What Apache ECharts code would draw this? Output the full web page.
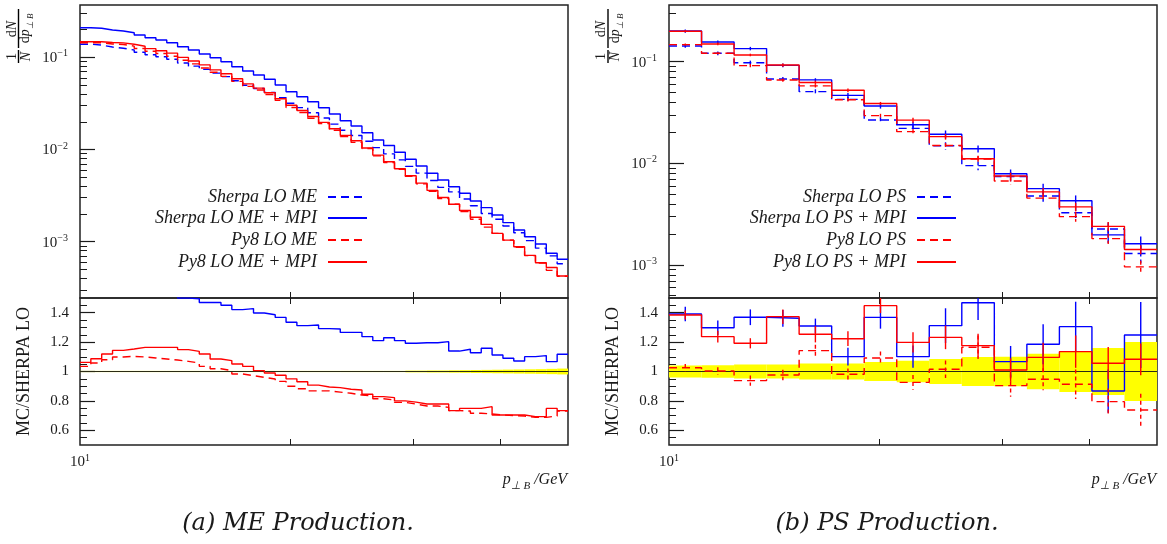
<!DOCTYPE html>
<html><head><meta charset="utf-8">
<script src="https://cdn.jsdelivr.net/npm/echarts@6/dist/echarts.min.js"></script>
<style>html,body{margin:0;padding:0;background:#fff}#c{width:1167px;height:544px}</style>
</head><body><div id="c"></div>
<script>
// ---------- bin edges (GeV) ----------
const leftEdges = [10, 10.364, 10.742, 11.133, 11.538, 11.958, 12.394, 12.845, 13.313, 13.797, 14.300, 14.820, 15.360, 15.919, 16.499, 17.100, 17.722, 18.368, 19.037, 19.730, 20.448, 21.193, 21.964, 22.764, 23.593, 24.452, 25.342, 26.265, 27.222, 28.213, 29.240, 30.305, 31.408, 32.552, 33.737, 34.966, 36.239, 37.558, 38.926, 40.343, 41.812, 43.335, 44.913, 46.548, 48.243, 50];
const rightEdges = [10, 11.133, 12.394, 13.797, 15.360, 17.100, 19.037, 21.193, 23.593, 26.265, 29.240, 32.552, 36.239, 40.343, 44.913, 50];

// ---------- (a) ME production ----------
const meSherpa = [0.1389, 0.1359, 0.1293, 0.1254, 0.1201, 0.1134, 0.1067, 0.1014, 0.0954, 0.0869, 0.0803, 0.0740, 0.0675, 0.0618, 0.0557, 0.0498, 0.0460, 0.0417, 0.0366, 0.0318, 0.0285, 0.0251, 0.0220, 0.01885, 0.01619, 0.01422, 0.01229, 0.01048, 0.00898, 0.00773, 0.00657, 0.00554, 0.00462, 0.00388, 0.00347, 0.00291, 0.00245, 0.00202, 0.00175, 0.00148, 0.00125, 0.001026, 0.000851, 0.000701, 0.000577];
const meSherpaMpi = [0.2097, 0.2065, 0.1979, 0.1931, 0.1850, 0.1747, 0.1633, 0.1542, 0.1441, 0.1304, 0.1201, 0.1087, 0.0991, 0.0897, 0.0791, 0.0711, 0.0643, 0.0578, 0.0501, 0.0424, 0.0374, 0.0330, 0.0284, 0.0243, 0.0205, 0.0180, 0.0152, 0.01268, 0.01105, 0.00935, 0.00783, 0.00662, 0.00552, 0.00467, 0.00395, 0.00335, 0.00276, 0.00234, 0.00195, 0.00161, 0.00134, 0.00113, 0.000943, 0.000748, 0.000644];
const mePy8 = [0.1438, 0.1438, 0.1396, 0.1378, 0.1325, 0.1246, 0.1165, 0.1100, 0.1028, 0.0929, 0.0850, 0.0766, 0.0688, 0.0622, 0.0548, 0.0484, 0.0442, 0.0396, 0.0341, 0.0286, 0.0252, 0.0218, 0.0191, 0.01621, 0.01379, 0.01194, 0.01026, 0.00854, 0.00724, 0.00611, 0.00511, 0.00424, 0.00353, 0.00293, 0.00255, 0.00213, 0.00175, 0.00144, 0.00123, 0.00104, 0.000871, 0.000706, 0.000585, 0.000489, 0.000422];
const mePy8Mpi = [0.1475, 0.1477, 0.1447, 0.1435, 0.1385, 0.1320, 0.1242, 0.1180, 0.1110, 0.0998, 0.0913, 0.0828, 0.0732, 0.0664, 0.0585, 0.0515, 0.0463, 0.0413, 0.0356, 0.0302, 0.0265, 0.0228, 0.0197, 0.01678, 0.01423, 0.01243, 0.01039, 0.00869, 0.00738, 0.00618, 0.00520, 0.00432, 0.00360, 0.00302, 0.00255, 0.00218, 0.00184, 0.00154, 0.00123, 0.00104, 0.000880, 0.000711, 0.000590, 0.000525, 0.000424];
const meRatioSherpaMpi = [1.52, 1.53, 1.54, 1.55, 1.55, 1.55, 1.54, 1.53, 1.52, 1.50, 1.495, 1.469, 1.469, 1.451, 1.421, 1.428, 1.398, 1.386, 1.368, 1.335, 1.312, 1.316, 1.292, 1.289, 1.266, 1.266, 1.237, 1.210, 1.230, 1.210, 1.192, 1.196, 1.196, 1.203, 1.139, 1.151, 1.128, 1.158, 1.112, 1.090, 1.071, 1.101, 1.108, 1.067, 1.117];
const meRatioPy8 = [1.035, 1.058, 1.080, 1.099, 1.103, 1.099, 1.092, 1.085, 1.078, 1.069, 1.058, 1.035, 1.019, 1.006, 0.983, 0.972, 0.960, 0.949, 0.933, 0.900, 0.883, 0.868, 0.868, 0.860, 0.852, 0.840, 0.835, 0.815, 0.806, 0.790, 0.778, 0.765, 0.765, 0.756, 0.734, 0.731, 0.716, 0.711, 0.704, 0.700, 0.697, 0.688, 0.688, 0.697, 0.731];
const meRatioPy8Mpi = [1.062, 1.087, 1.119, 1.144, 1.153, 1.164, 1.164, 1.164, 1.164, 1.149, 1.137, 1.119, 1.085, 1.074, 1.051, 1.035, 1.006, 0.990, 0.974, 0.950, 0.930, 0.907, 0.895, 0.890, 0.879, 0.874, 0.845, 0.829, 0.822, 0.800, 0.792, 0.779, 0.779, 0.779, 0.734, 0.749, 0.749, 0.761, 0.704, 0.704, 0.704, 0.693, 0.693, 0.749, 0.734];
const meBand = [0.004, 0.004, 0.004, 0.004, 0.004, 0.004, 0.004, 0.004, 0.004, 0.004, 0.004, 0.004, 0.004, 0.004, 0.004, 0.004, 0.004, 0.004, 0.004, 0.004, 0.004, 0.004, 0.004, 0.004, 0.004, 0.004, 0.004, 0.004, 0.004, 0.004, 0.006, 0.006, 0.007, 0.007, 0.008, 0.009, 0.010, 0.011, 0.012, 0.013, 0.014, 0.015, 0.016, 0.018, 0.020];

// ---------- (b) PS production ----------
const psSherpa = [0.1426, 0.1209, 0.0977, 0.0675, 0.0507, 0.0426, 0.0267, 0.0221, 0.0149, 0.00949, 0.00742, 0.00477, 0.00327, 0.00226, 0.00130];
const psSherpaMpi = [0.200, 0.156, 0.1345, 0.0919, 0.0662, 0.0466, 0.0366, 0.0240, 0.0193, 0.0139, 0.00791, 0.00564, 0.00428, 0.00198, 0.00162];
const psPy8 = [0.147, 0.121, 0.0915, 0.066, 0.0578, 0.0422, 0.0295, 0.0205, 0.0150, 0.0110, 0.00671, 0.00455, 0.00299, 0.00182, 0.00096];
const psPy8Mpi = [0.199, 0.1494, 0.1164, 0.0927, 0.0623, 0.0523, 0.0388, 0.0266, 0.0183, 0.0111, 0.00750, 0.00524, 0.00373, 0.0024, 0.00142];
const psRatioSherpaMpi = [1.391, 1.298, 1.369, 1.362, 1.310, 1.101, 1.368, 1.101, 1.312, 1.468, 1.067, 1.185, 1.305, 0.867, 1.248];
const psRatioPy8 = [1.026, 1.003, 0.938, 0.976, 1.142, 0.981, 1.092, 0.926, 1.015, 1.165, 0.904, 0.947, 0.913, 0.795, 0.738];
const psRatioPy8Mpi = [1.384, 1.237, 1.192, 1.373, 1.253, 1.223, 1.448, 1.198, 1.232, 1.176, 1.010, 1.096, 1.135, 1.056, 1.083];
// relative uncertainties
const psSherpaErr = [0.040, 0.042, 0.047, 0.048, 0.055, 0.055, 0.065, 0.073, 0.085, 0.098, 0.100, 0.120, 0.140, 0.160, 0.200];
const psSherpaMpiErr = [0.035, 0.038, 0.039, 0.042, 0.038, 0.055, 0.056, 0.069, 0.090, 0.080, 0.100, 0.115, 0.130, 0.170, 0.180];
const psPy8Err = [0.024, 0.025, 0.037, 0.036, 0.035, 0.041, 0.041, 0.054, 0.059, 0.069, 0.083, 0.079, 0.110, 0.113, 0.149];
const psPy8MpiErr = [0.022, 0.032, 0.029, 0.036, 0.044, 0.041, 0.035, 0.058, 0.065, 0.068, 0.079, 0.091, 0.097, 0.104, 0.100];

// ---------- ticks ----------
const xTicks = [20, 30, 40];
const xLabelTicks = [10];
const mainMajorTicks = [0.1, 0.01, 0.001];
const leftMinorTicks = [3e-4, 4e-4, 5e-4, 6e-4, 7e-4, 8e-4, 9e-4, 2e-3, 3e-3, 4e-3, 5e-3, 6e-3, 7e-3, 8e-3, 9e-3, 0.02, 0.03, 0.04, 0.05, 0.06, 0.07, 0.08, 0.09, 0.2, 0.3];
const rightMinorTicks = [5e-4, 6e-4, 7e-4, 8e-4, 9e-4, 2e-3, 3e-3, 4e-3, 5e-3, 6e-3, 7e-3, 8e-3, 9e-3, 0.02, 0.03, 0.04, 0.05, 0.06, 0.07, 0.08, 0.09, 0.2, 0.3];
const ratioMajorTicks = [0.6, 0.8, 1, 1.2, 1.4];
const ratioMinorTicks = [0.55, 0.65, 0.7, 0.75, 0.85, 0.9, 0.95, 1.05, 1.1, 1.15, 1.25, 1.3, 1.35, 1.45];

const BLUE = '#0000ff', RED = '#ff0000', INK = '#1a1a1a';
const SERIF = 'Liberation Serif';

function steps(edges, vals) {
  const d = vals.map((v, i) => [edges[i], v]);
  d.push([edges[vals.length], vals[vals.length - 1]]);
  return d;
}
function histo(name, edges, vals, color, dashed, xi, yi, z) {
  return { name, type: 'line', step: 'end', xAxisIndex: xi, yAxisIndex: yi, data: steps(edges, vals),
    symbol: 'none', showSymbol: false, clip: true, z: z, silent: true,
    lineStyle: { color, width: 1.4, type: dashed ? [8, 5] : 'solid' }, itemStyle: { color },
    emphasis: { disabled: true } };
}
function errBars(edges, vals, errs, color, dashed, xi, yi, z) {
  return { type: 'custom', xAxisIndex: xi, yAxisIndex: yi, clip: true, silent: true, z: z,
    data: vals.map((v, i) => [Math.sqrt(edges[i] * edges[i + 1]), v, errs[i]]),
    renderItem(params, api) {
      const x = api.value(0), v = api.value(1), e = api.value(2);
      const a = api.coord([x, v * (1 + e)]), b = api.coord([x, v * (1 - e)]);
      return { type: 'line', shape: { x1: a[0], y1: a[1], x2: b[0], y2: b[1] },
        style: { stroke: color, lineWidth: 1.4, lineDash: dashed ? [4, 3] : 'solid' } };
    } };
}
function band(edges, half, xi, yi) {
  return { type: 'custom', xAxisIndex: xi, yAxisIndex: yi, clip: true, silent: true, z: 1,
    data: half.map((h, i) => [edges[i], 1, edges[i + 1], h]),
    renderItem(params, api) {
      const h = api.value(3);
      const p0 = api.coord([api.value(0), 1 + h]), p1 = api.coord([api.value(2), 1 - h]);
      return { type: 'rect', shape: { x: p0[0], y: p0[1], width: p1[0] - p0[0], height: p1[1] - p0[1] },
        style: { fill: '#ffff00' } };
    } };
}
function unity(xi, yi) {
  return { type: 'line', xAxisIndex: xi, yAxisIndex: yi, data: [[10, 1], [50, 1]], symbol: 'none',
    silent: true, z: 2, lineStyle: { color: '#2b2b14', width: 1.2 } };
}

const supRich = {
  b: { fontFamily: SERIF, fontSize: 15, color: INK, verticalAlign: 'bottom', lineHeight: 17 },
  s: { fontFamily: SERIF, fontSize: 10, color: INK, verticalAlign: 'top', lineHeight: 17 }
};
function powFmt(v) {
  const e = Math.round(Math.log10(v));
  return '{b|10}{s|' + (e < 0 ? '\u2212' : '') + Math.abs(e) + '}';
}
function ratioFmt(v) { return Math.abs(v - 1) < 1e-9 ? '1' : v.toFixed(1); }

function xAxes(mainGrid, ratioGrid) {
  const base = { type: 'log', logBase: 10, min: 10, max: 50, axisLine: { show: false }, splitLine: { show: false },
    axisTick: { inside: true, length: 6, customValues: xTicks, lineStyle: { color: INK, width: 1 } } };
  return [
    Object.assign({}, base, { gridIndex: mainGrid, axisLabel: { show: false } }),
    Object.assign({}, base, { gridIndex: ratioGrid, position: 'bottom',
      axisLabel: { customValues: xLabelTicks, formatter: powFmt, rich: supRich, margin: 8 } }),
    Object.assign({}, base, { gridIndex: ratioGrid, position: 'top', axisLabel: { show: false } })
  ];
}
function yAxes(mainGrid, ratioGrid, min, max, minorTicks) {
  const common = { axisLine: { show: false }, splitLine: { show: false }, position: 'left' };
  return [
    Object.assign({}, common, { gridIndex: mainGrid, type: 'log', logBase: 10, min, max,
      axisTick: { inside: true, length: 15, customValues: mainMajorTicks, lineStyle: { color: INK, width: 1.2 } },
      axisLabel: { customValues: mainMajorTicks, formatter: powFmt, rich: supRich, margin: 12 } }),
    Object.assign({}, common, { gridIndex: mainGrid, type: 'log', logBase: 10, min, max,
      axisTick: { inside: true, length: 7, customValues: minorTicks, lineStyle: { color: INK, width: 1 } },
      axisLabel: { show: false } }),
    Object.assign({}, common, { gridIndex: ratioGrid, type: 'value', min: 0.5, max: 1.5,
      axisTick: { inside: true, length: 15, customValues: ratioMajorTicks, lineStyle: { color: INK, width: 1.2 } },
      axisLabel: { customValues: ratioMajorTicks, formatter: ratioFmt, margin: 11, fontFamily: SERIF, fontSize: 15, color: INK },
      name: 'MC/SHERPA LO', nameLocation: 'middle', nameGap: 47, nameRotate: 90,
      nameTextStyle: { fontFamily: SERIF, fontSize: 18, color: INK } }),
    Object.assign({}, common, { gridIndex: ratioGrid, type: 'value', min: 0.5, max: 1.5,
      axisTick: { inside: true, length: 7, customValues: ratioMinorTicks, lineStyle: { color: INK, width: 1 } },
      axisLabel: { show: false } })
  ];
}

function legendRow(name, right, top) {
  return { data: [name], orient: 'vertical', right, top, align: 'right', itemWidth: 39, itemHeight: 10,
    itemGap: 0, selectedMode: false, itemStyle: { opacity: 0 },
    textStyle: { fontFamily: SERIF, fontStyle: 'italic', fontSize: 18, color: INK, lineHeight: 20, padding: [0, 6, 0, 0] } };
}
const rowTops = [182, 203, 225, 247];
const legendsLeft = ['Sherpa LO ME', 'Sherpa LO ME + MPI', 'Py8 LO ME', 'Py8 LO ME + MPI'].map((n, i) => legendRow(n, 794, rowTops[i]));
const legendsRight = ['Sherpa LO PS', 'Sherpa LO PS + MPI', 'Py8 LO PS', 'Py8 LO PS + MPI'].map((n, i) => legendRow(n, 205, rowTops[i]));

function txt(x, y, text, font, extra) {
  return { type: 'text', x, y, silent: true,
    style: Object.assign({ text, font, fill: INK, align: 'center', verticalAlign: 'middle', textAlign: 'center', textVerticalAlign: 'middle' }, extra || {}) };
}
function yNameGraphic(ox) {
  const up = '14px "Liberation Serif"', it = 'italic 14px "Liberation Serif"';
  return { type: 'group', x: ox + 18.5, y: 63, rotation: Math.PI / 2, silent: true, children: [
    txt(6.5, -6.5, '1', up),
    { type: 'line', shape: { x1: 0, y1: 0, x2: 13, y2: 0 }, style: { stroke: '#000', lineWidth: 1.4 } },
    txt(6.5, 7.5, 'N', it),
    txt(34, -6.5, '{d|d}{n|N}', up, { rich: { d: { font: up, fill: INK }, n: { font: it, fill: INK } } }),
    { type: 'line', shape: { x1: 15, y1: 0, x2: 54, y2: 0 }, style: { stroke: '#000', lineWidth: 1.4 } },
    txt(34.5, 8.5, '{d|d}{p|p}{s|\u22a5 B}', up, { rich: {
      d: { font: up, fill: INK, verticalAlign: 'top', lineHeight: 17 },
      p: { font: it, fill: INK, verticalAlign: 'top', lineHeight: 17 },
      s: { font: 'italic 9px "Liberation Serif"', fill: INK, verticalAlign: 'bottom', lineHeight: 17 } } })
  ] };
}
function xNameGraphic(xr) {
  const it = 'italic 16px "Liberation Serif"';
  return { type: 'text', x: xr, y: 482, silent: true, style: {
    text: '{p|p}{s|\u22a5 B}{g| /GeV}', align: 'right', textAlign: 'right', verticalAlign: 'middle', textVerticalAlign: 'middle',
    rich: { p: { font: it, fill: INK, verticalAlign: 'top', lineHeight: 20 },
            s: { font: 'italic 11px "Liberation Serif"', fill: INK, verticalAlign: 'bottom', lineHeight: 20 },
            g: { font: it, fill: INK, verticalAlign: 'top', lineHeight: 20 } } } };
}

const gridStyle = { show: true, borderColor: '#222', borderWidth: 1.5, backgroundColor: 'transparent', containLabel: false };
const option = {
  animation: false,
  backgroundColor: '#ffffff',
  grid: [
    Object.assign({ left: 80, top: 5, width: 488, height: 293, outerBoundsMode: 'none' }, gridStyle),
    Object.assign({ left: 80, top: 298, width: 488, height: 147, outerBoundsMode: 'none' }, gridStyle),
    Object.assign({ left: 669, top: 5, width: 488, height: 293, outerBoundsMode: 'none' }, gridStyle),
    Object.assign({ left: 669, top: 298, width: 488, height: 147, outerBoundsMode: 'none' }, gridStyle)
  ],
  xAxis: [].concat(xAxes(0, 1), xAxes(2, 3)),
  yAxis: [].concat(yAxes(0, 1, 2.45e-4, 0.3697, leftMinorTicks), yAxes(2, 3, 4.74e-4, 0.3608, rightMinorTicks)),
  legend: legendsLeft.concat(legendsRight),
  series: [
    // (a) main
    histo('Sherpa LO ME', leftEdges, meSherpa, BLUE, true, 0, 0, 3),
    histo('Sherpa LO ME + MPI', leftEdges, meSherpaMpi, BLUE, false, 0, 0, 3),
    histo('Py8 LO ME', leftEdges, mePy8, RED, true, 0, 0, 4),
    histo('Py8 LO ME + MPI', leftEdges, mePy8Mpi, RED, false, 0, 0, 4),
    // (a) ratio
    band(leftEdges, meBand, 1, 2),
    unity(1, 2),
    histo('ME ratio Sherpa+MPI', leftEdges, meRatioSherpaMpi, BLUE, false, 1, 2, 3),
    histo('ME ratio Py8', leftEdges, meRatioPy8, RED, true, 1, 2, 4),
    histo('ME ratio Py8+MPI', leftEdges, meRatioPy8Mpi, RED, false, 1, 2, 4),
    // (b) main
    histo('Sherpa LO PS', rightEdges, psSherpa, BLUE, true, 3, 4, 3),
    histo('Sherpa LO PS + MPI', rightEdges, psSherpaMpi, BLUE, false, 3, 4, 3),
    histo('Py8 LO PS', rightEdges, psPy8, RED, true, 3, 4, 4),
    histo('Py8 LO PS + MPI', rightEdges, psPy8Mpi, RED, false, 3, 4, 4),
    errBars(rightEdges, psSherpa, psSherpaErr, BLUE, true, 3, 4, 3),
    errBars(rightEdges, psSherpaMpi, psSherpaMpiErr, BLUE, false, 3, 4, 3),
    errBars(rightEdges, psPy8, psPy8Err, RED, true, 3, 4, 4),
    errBars(rightEdges, psPy8Mpi, psPy8MpiErr, RED, false, 3, 4, 4),
    // (b) ratio
    band(rightEdges, psSherpaErr, 4, 6),
    unity(4, 6),
    histo('PS ratio Sherpa+MPI', rightEdges, psRatioSherpaMpi, BLUE, false, 4, 6, 3),
    histo('PS ratio Py8', rightEdges, psRatioPy8, RED, true, 4, 6, 4),
    histo('PS ratio Py8+MPI', rightEdges, psRatioPy8Mpi, RED, false, 4, 6, 4),
    errBars(rightEdges, psRatioSherpaMpi, psSherpaMpiErr, BLUE, false, 4, 6, 3),
    errBars(rightEdges, psRatioPy8, psPy8Err, RED, true, 4, 6, 4),
    errBars(rightEdges, psRatioPy8Mpi, psPy8MpiErr, RED, false, 4, 6, 4)
  ],
  graphic: [
    yNameGraphic(0), yNameGraphic(589.5),
    xNameGraphic(567), xNameGraphic(1156),
    txt(298, 524, '(a) ME Production.', 'italic 24px "DejaVu Serif"'),
    txt(887, 524, '(b) PS Production.', 'italic 24px "DejaVu Serif"')
  ]
};
const chart = echarts.init(document.getElementById('c'), null, { renderer: 'canvas' });
chart.setOption(option);
</script>
</body></html>
